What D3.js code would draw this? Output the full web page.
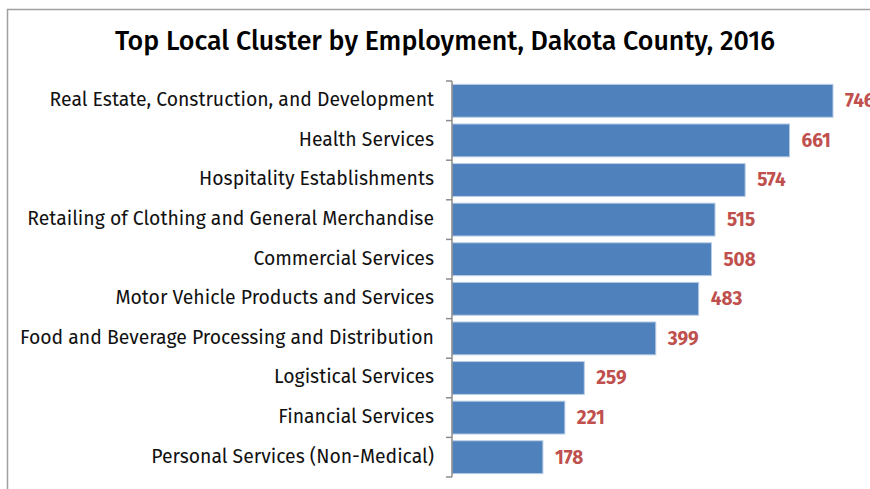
<!DOCTYPE html>
<html>
<head>
<meta charset="utf-8">
<script src="https://cdn.jsdelivr.net/npm/d3@7"></script>
<style>
  html, body { margin: 0; padding: 0; background: #fff; }
  svg { display: block; }
</style>
</head>
<body>
<svg id="chart" width="870" height="489"></svg>
<script>
// Local cluster employment, Dakota County, 2016
const categories = [
  "Real Estate, Construction, and Development",
  "Health Services",
  "Hospitality Establishments",
  "Retailing of Clothing and General Merchandise",
  "Commercial Services",
  "Motor Vehicle Products and Services",
  "Food and Beverage Processing and Distribution",
  "Logistical Services",
  "Financial Services",
  "Personal Services (Non-Medical)"
];
const employment = [746, 661, 574, 515, 508, 483, 399, 259, 221, 178];
const title = "Top Local Cluster by Employment, Dakota County, 2016";

const svg = d3.select("#chart");
const font = "'Fira Sans', 'Open Sans', 'Noto Sans', sans-serif";

// outer frame (left and top edges visible)
svg.append("path")
  .attr("d", "M7.5,489 V9.5 H870")
  .attr("fill", "none")
  .attr("stroke", "#a0a0a0")
  .attr("stroke-width", 1.5);

svg.append("text")
  .attr("x", 445)
  .attr("y", 50)
  .attr("text-anchor", "middle")
  .attr("font-family", font)
  .attr("font-size", 26.8)
  .attr("font-weight", 500)
  .attr("fill", "#000")
  .text(title);

const x0 = 452;
const x = d3.scaleLinear().domain([0, 746]).range([x0, 833]);
const y = d3.scaleBand().domain(categories).range([81, 477]).paddingInner(0.17).paddingOuter(0.085);

const data = categories.map((c, i) => ({ c, v: employment[i] }));

svg.selectAll("rect.bar")
  .data(data)
  .join("rect")
  .attr("class", "bar")
  .attr("x", x(0))
  .attr("y", d => y(d.c))
  .attr("width", d => x(d.v) - x(0))
  .attr("height", y.bandwidth())
  .attr("fill", "#4f81bd")
  .attr("stroke", "#b9cde6")
  .attr("stroke-width", 1);

// category axis with ticks between bands
const axisG = svg.append("g");
axisG.append("line")
  .attr("x1", x0).attr("x2", x0)
  .attr("y1", 81).attr("y2", 477)
  .attr("stroke", "#8c8c8c").attr("stroke-width", 1.5);
d3.range(categories.length + 1).forEach(i => {
  const ty = 81 + i * (396 / categories.length);
  axisG.append("line")
    .attr("x1", x0 - 6).attr("x2", x0)
    .attr("y1", ty).attr("y2", ty)
    .attr("stroke", "#8c8c8c").attr("stroke-width", 1.5);
});

svg.selectAll("text.cat")
  .data(data)
  .join("text")
  .attr("class", "cat")
  .attr("x", 434)
  .attr("y", d => y(d.c) + y.bandwidth() / 2)
  .attr("dy", "0.28em")
  .attr("text-anchor", "end")
  .attr("font-family", font)
  .attr("font-size", 19.4)
  .attr("fill", "#111")
  .text(d => d.c);

svg.selectAll("text.val")
  .data(data)
  .join("text")
  .attr("class", "val")
  .attr("x", d => x(d.v) + 12)
  .attr("y", d => y(d.c) + y.bandwidth() / 2)
  .attr("dy", "0.34em")
  .attr("font-family", font)
  .attr("font-size", 19)
  .attr("font-weight", 700)
  .attr("fill", "#c0504d")
  .text(d => d.v);
</script>
</body>
</html>
